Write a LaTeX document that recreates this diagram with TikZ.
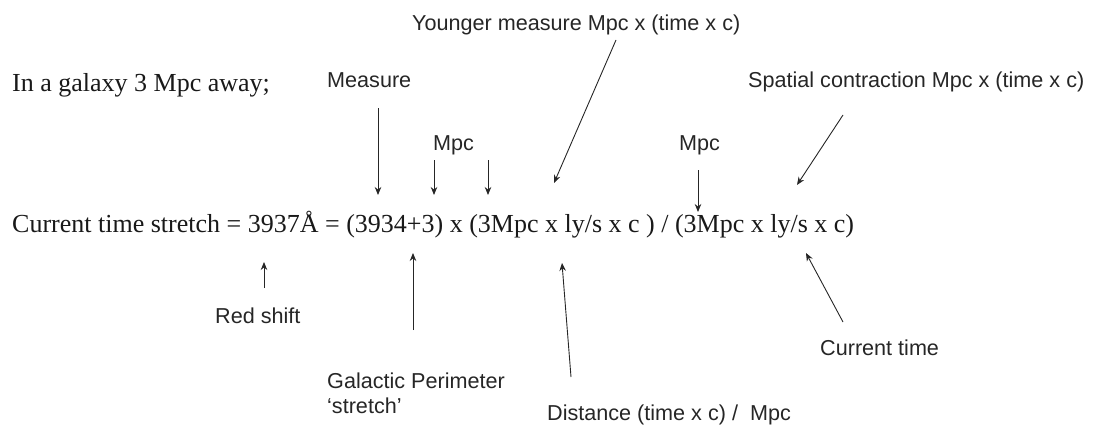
\documentclass[tikz,border=0pt]{standalone}
\usepackage{fontspec}
\setmainfont{Liberation Serif}
\setsansfont{Liberation Sans}
\usepackage{tikz}
\usetikzlibrary{arrows.meta,calc,positioning}

\begin{document}
\begin{tikzpicture}[x=1pt,y=-1pt,
  eqn/.style={font=\fontsize{26}{31}\selectfont,inner sep=0pt,anchor=base west,text=black!90},
  lbl/.style={font=\sffamily\fontsize{21.6}{25}\selectfont,inner sep=0pt,anchor=base west,text=black!85},
  arr/.style={-{Stealth[length=8pt,width=6.5pt]},line width=0.9pt,black!85}]
\useasboundingbox (0,0) rectangle (1093,428);

% Equation and heading
\node[eqn] (galaxy) at (12,92) {In a galaxy 3 Mpc away;};
\node[eqn] (stretch) at (12,232) {Current time stretch = 3937Å = (3934+3) x (3Mpc x ly/s x c ) / (3Mpc x ly/s x c)};

% Labels above
\node[lbl] (measure) at (327,88) {Measure};
\node[lbl] (younger) at (412,31) {Younger measure Mpc x (time x c)};
\node[lbl] (mpcA) at (433,150) {Mpc};
\node[lbl] (mpcB) at (679,150) {Mpc};
\node[lbl] (spatial) at (748,88) {Spatial contraction Mpc x (time x c)};

% Labels below
\node[lbl] (redshift) at (215,323) {Red shift};
\node[lbl,align=left] (perimeter) at (327,413) {Galactic Perimeter\\`stretch'};
\node[lbl] (distance) at (547,420) {Distance (time x c) /\ \ Mpc};
\node[lbl] (curtime) at (820,355) {Current time};

% Arrow ends
\coordinate (measureA) at (378,108);  \coordinate (measureB) at (378,195);
\coordinate (mpcA1) at (434,160);     \coordinate (mpcA1t) at (434,195);
\coordinate (mpcA2) at (488,160);     \coordinate (mpcA2t) at (488,195);
\coordinate (youngerA) at (616,40);   \coordinate (youngerB) at (554,183);
\coordinate (mpcB1) at (698,170);     \coordinate (mpcB1t) at (698,212);
\coordinate (spatialA) at (843,115);  \coordinate (spatialB) at (797,185);
\coordinate (redA) at (264,288);      \coordinate (redB) at (264,262);
\coordinate (perimA) at (413,330);    \coordinate (perimB) at (413,253);
\coordinate (distA) at (571,377);     \coordinate (distB) at (562,263);
\coordinate (curA) at (843,322);      \coordinate (curB) at (806,253);

% Arrows
\draw[arr] (measureA) -- (measureB);
\draw[arr] (mpcA1) -- (mpcA1t);
\draw[arr] (mpcA2) -- (mpcA2t);
\draw[arr] (youngerA) -- (youngerB);
\draw[arr] (mpcB1) -- (mpcB1t);
\draw[arr] (spatialA) -- (spatialB);
\draw[arr] (redA) -- (redB);
\draw[arr] (perimA) -- (perimB);
\draw[arr] (distA) -- (distB);
\draw[arr] (curA) -- (curB);
\end{tikzpicture}
\end{document}
